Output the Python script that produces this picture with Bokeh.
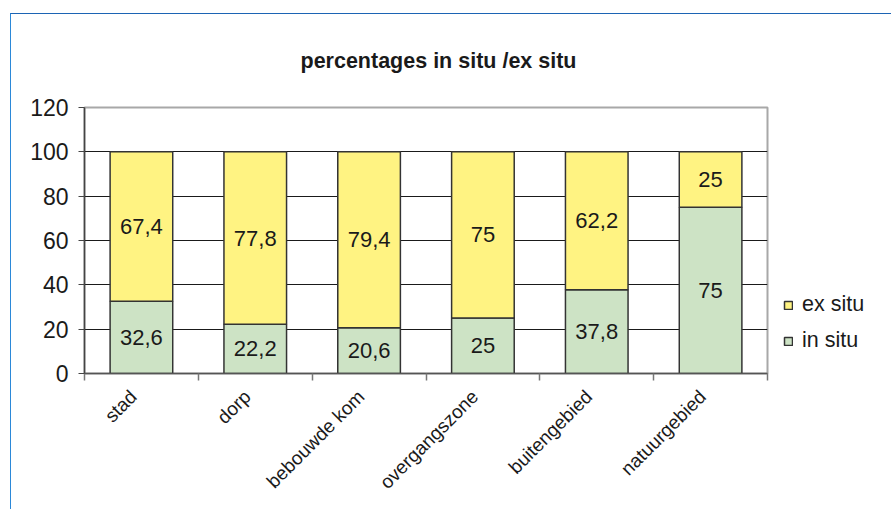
import math
import numpy as np
from bokeh.plotting import figure
from bokeh.models import (Range1d, FixedTicker, Legend, LegendItem, ColumnDataSource)
from bokeh.core.properties import value
from bokeh.embed import file_html
from bokeh.resources import INLINE

categories = ["stad", "dorp", "bebouwde kom", "overgangszone", "buitengebied", "natuurgebied"]
in_situ = [32.6, 22.2, 20.6, 25, 37.8, 75]
ex_situ = [67.4, 77.8, 79.4, 75, 62.2, 25]
y_ticks = [0, 20, 40, 60, 80, 100, 120]

FONT = "Liberation Sans"
GREEN = "#cde3c5"
YELLOW = "#fff382"
EDGE = "#333333"

n = len(categories)
xs = np.arange(n) + 0.5
ins = np.array(in_situ)
exs = np.array(ex_situ)
LABEL_SHIFT = 0.07  # nudge rotated labels so their top-right corner sits at the bar centre
label_pos = [float(x - LABEL_SHIFT) for x in xs]

def fmt(v):
    return f"{v:g}".replace(".", ",")

src = ColumnDataSource(dict(
    x=xs, ins=ins, top=ins + exs,
    in_mid=ins / 2, ex_mid=ins + exs / 2,
    in_lab=[fmt(v) for v in ins], ex_lab=[fmt(v) for v in exs],
))

p = figure(frame_width=683, frame_height=266, output_backend="svg",
           toolbar_location=None, x_range=Range1d(0, n), y_range=Range1d(0, 120),
           min_border_left=73, min_border_top=93, min_border_right=120,
           min_border_bottom=136,
           styles={"border-left": "1px solid #2b88d8", "border-top": "1px solid #1c64b4",
                   "margin-left": "10px", "margin-top": "13px"})

p.title.text = "percentages in situ /ex situ"
p.title.text_font = FONT
p.title.text_font_size = "21.5px"
p.title.text_font_style = "bold"
p.title.text_color = "#1a1a1a"
p.title.align = "left"
p.title.vertical_align = "top"
p.title.offset = 216
p.title.standoff = 66

p.outline_line_color = "#a8a8a8"
p.outline_line_width = 2
p.background_fill_color = "white"
p.border_fill_color = "white"

# y axis
ya = p.yaxis[0]
ya.ticker = FixedTicker(ticks=y_ticks)
ya.minor_tick_line_color = None
ya.major_tick_in = 0
ya.major_tick_out = 6
ya.axis_line_color = "#444444"
ya.major_tick_line_color = "#444444"
ya.axis_line_width = 1.5
ya.major_label_text_font = FONT
ya.major_label_text_font_size = "23px"
ya.major_label_text_color = "#1a1a1a"
ya.major_label_standoff = 10

p.xgrid.visible = False
p.ygrid.ticker = FixedTicker(ticks=y_ticks[1:-1])
p.ygrid.grid_line_color = "#1a1a1a"
p.ygrid.grid_line_width = 1

# x axis: labels at bar centres, tick marks at category boundaries
xa = p.xaxis[0]
xa.ticker = FixedTicker(ticks=label_pos, minor_ticks=list(range(n + 1)))
xa.major_tick_in = 0
xa.major_tick_out = 0
xa.minor_tick_in = 0
xa.minor_tick_out = 7
xa.minor_tick_line_color = "#777777"
xa.minor_tick_line_width = 1.5
xa.axis_line_color = "#555555"
xa.axis_line_width = 1.5
xa.major_label_overrides = {x: c for x, c in zip(label_pos, categories)}
xa.major_label_orientation = math.pi / 4
xa.major_label_text_font = FONT
xa.major_label_text_font_size = "19px"
xa.major_label_text_color = "#1a1a1a"
xa.major_label_standoff = 13

r_in = p.vbar(x="x", bottom=0, top="ins", width=0.55, source=src,
              fill_color=GREEN, line_color=EDGE, line_width=1.5)
r_ex = p.vbar(x="x", bottom="ins", top="top", width=0.55, source=src,
              fill_color=YELLOW, line_color=EDGE, line_width=1.5)

for ycol, tcol in (("in_mid", "in_lab"), ("ex_mid", "ex_lab")):
    p.text(x="x", y=ycol, text=tcol, source=src, text_align="center",
           text_baseline="middle", text_font=value(FONT), text_font_size="22px",
           text_color="#1a1a1a")

legend = Legend(items=[LegendItem(label="ex situ", renderers=[r_ex]),
                       LegendItem(label="in situ", renderers=[r_in])],
                location=(16, 20), orientation="vertical",
                label_text_font=FONT, label_text_font_size="21.5px",
                label_text_color="#1a1a1a", glyph_width=10, glyph_height=10,
                label_standoff=9, spacing=11, padding=4, margin=0,
                border_line_color=None, background_fill_alpha=0)
p.add_layout(legend, "right")

open("out.html", "w").write(file_html(p, INLINE))
